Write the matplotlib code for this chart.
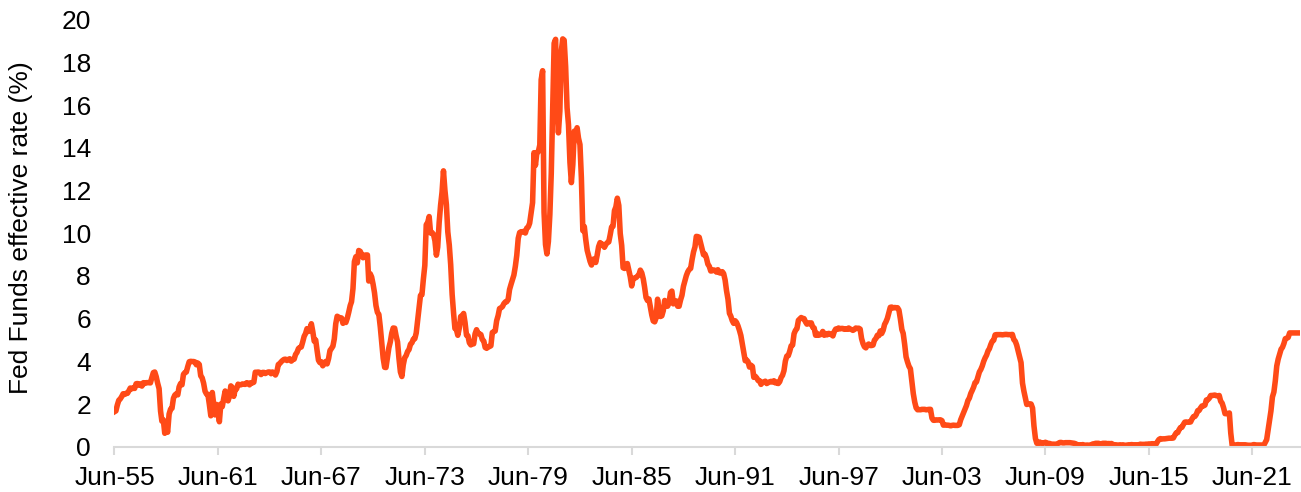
import numpy as np
import pandas as pd
import matplotlib.pyplot as plt

# monthly Fed Funds effective rate (%), Jun 1955 - Mar 2024
rates_1950s = [1.64, 1.68, 1.96, 2.18, 2.24, 2.35, 2.48,
               2.45, 2.50, 2.50, 2.62, 2.75, 2.71, 2.75, 2.73, 2.95, 2.96, 2.88, 2.94,
               2.84, 3.00, 2.96, 3.00, 3.00, 3.00, 2.99, 3.24, 3.47, 3.50, 3.28, 2.98,
               2.72, 1.67, 1.20, 1.26, 0.63, 0.93, 0.68, 1.53, 1.76, 1.80, 2.27, 2.42,
               2.48, 2.43, 2.80, 2.96, 2.90, 3.39, 3.47, 3.50, 3.76, 3.98, 4.00, 3.99]
rates_1960s = [3.99, 3.97, 3.84, 3.92, 3.85, 3.32, 3.23, 2.98, 2.60, 2.47, 2.44, 1.98,
               1.45, 2.54, 2.02, 1.49, 1.98, 1.73, 1.17, 2.00, 1.88, 2.26, 2.61, 2.33,
               2.15, 2.37, 2.85, 2.78, 2.36, 2.68, 2.71, 2.93, 2.90, 2.90, 2.94, 2.93,
               2.92, 3.00, 2.98, 2.90, 3.00, 2.99, 3.02, 3.49, 3.48, 3.50, 3.48, 3.38,
               3.48, 3.48, 3.43, 3.47, 3.50, 3.50, 3.42, 3.50, 3.45, 3.36, 3.52, 3.85,
               3.90, 3.98, 4.04, 4.09, 4.10, 4.04, 4.09, 4.12, 4.01, 4.08, 4.10, 4.32,
               4.42, 4.60, 4.65, 4.67, 4.90, 5.17, 5.30, 5.53, 5.40, 5.53, 5.76, 5.40,
               4.94, 5.00, 4.53, 4.05, 3.94, 3.98, 3.79, 3.90, 3.99, 3.88, 4.13, 4.51,
               4.60, 4.71, 5.05, 5.76, 6.11, 6.07, 6.02, 6.03, 5.78, 5.91, 5.82, 6.02,
               6.30, 6.61, 6.79, 7.41, 8.67, 8.90, 8.61, 9.19, 9.15, 9.00, 8.85, 8.97]
rates_1970s = [8.98, 8.98, 7.76, 8.10, 7.95, 7.61, 7.21, 6.61, 6.29, 6.20, 5.60, 4.90,
               4.14, 3.72, 3.71, 4.16, 4.63, 4.91, 5.31, 5.56, 5.55, 5.20, 4.91, 4.14,
               3.50, 3.29, 3.83, 4.17, 4.27, 4.46, 4.55, 4.80, 4.87, 5.04, 5.06, 5.33,
               5.94, 6.58, 7.09, 7.12, 7.84, 8.49, 10.40, 10.50, 10.78, 10.01, 10.03, 9.95,
               9.65, 8.97, 9.35, 10.51, 11.31, 11.93, 12.92, 12.01, 11.34, 10.06, 9.45, 8.53,
               7.13, 6.24, 5.54, 5.49, 5.22, 5.55, 6.10, 6.14, 6.24, 5.82, 5.22, 5.20,
               4.87, 4.77, 4.84, 4.82, 5.29, 5.48, 5.31, 5.29, 5.25, 5.02, 4.95, 4.65,
               4.61, 4.68, 4.69, 4.73, 5.35, 5.39, 5.42, 5.90, 6.14, 6.47, 6.51, 6.56,
               6.70, 6.78, 6.79, 6.89, 7.36, 7.60, 7.81, 8.04, 8.45, 8.96, 9.76, 10.03,
               10.07, 10.06, 10.09, 10.01, 10.24, 10.29, 10.47, 10.94, 11.43, 13.77, 13.18, 13.78]
rates_1980s = [13.82, 14.13, 17.19, 17.61, 10.98, 9.47, 9.03, 9.61, 10.87, 12.81, 15.85, 18.90,
               19.08, 15.93, 14.70, 15.72, 18.52, 19.10, 19.04, 17.82, 15.87, 15.08, 13.31, 12.37,
               13.22, 14.78, 14.68, 14.94, 14.45, 14.15, 12.59, 10.12, 10.31, 9.71, 9.20, 8.95,
               8.68, 8.51, 8.77, 8.80, 8.63, 8.98, 9.37, 9.56, 9.45, 9.48, 9.34, 9.47,
               9.56, 9.59, 9.91, 10.29, 10.32, 11.06, 11.23, 11.64, 11.30, 9.99, 9.43, 8.38,
               8.35, 8.50, 8.58, 8.27, 7.97, 7.53, 7.88, 7.90, 7.92, 7.99, 8.05, 8.27,
               8.14, 7.86, 7.48, 6.99, 6.85, 6.92, 6.56, 6.17, 5.89, 5.85, 6.04, 6.91,
               6.43, 6.10, 6.13, 6.37, 6.85, 6.73, 6.58, 6.73, 7.22, 7.29, 6.69, 6.77,
               6.83, 6.58, 6.58, 6.87, 7.09, 7.51, 7.75, 8.01, 8.19, 8.30, 8.35, 8.76,
               9.12, 9.36, 9.85, 9.84, 9.81, 9.53, 9.24, 8.99, 9.02, 8.84, 8.55, 8.45]
rates_1990s = [8.23, 8.24, 8.28, 8.26, 8.18, 8.29, 8.15, 8.13, 8.20, 8.11, 7.81, 7.31,
               6.91, 6.25, 6.12, 5.91, 5.78, 5.90, 5.82, 5.66, 5.45, 5.21, 4.81, 4.43,
               4.03, 4.06, 3.98, 3.73, 3.82, 3.76, 3.25, 3.30, 3.22, 3.10, 3.09, 2.92,
               3.02, 3.03, 3.07, 2.96, 3.00, 3.04, 3.06, 3.03, 3.09, 2.99, 3.02, 2.96,
               3.05, 3.25, 3.34, 3.56, 4.01, 4.25, 4.26, 4.47, 4.73, 4.76, 5.29, 5.45,
               5.53, 5.92, 5.98, 6.05, 6.01, 6.00, 5.85, 5.74, 5.80, 5.76, 5.80, 5.60,
               5.56, 5.22, 5.31, 5.22, 5.24, 5.27, 5.40, 5.22, 5.30, 5.24, 5.31, 5.29,
               5.25, 5.19, 5.39, 5.51, 5.50, 5.56, 5.52, 5.54, 5.54, 5.50, 5.52, 5.50,
               5.56, 5.51, 5.49, 5.45, 5.49, 5.56, 5.54, 5.55, 5.51, 5.07, 4.83, 4.68,
               4.63, 4.76, 4.81, 4.74, 4.74, 4.76, 4.99, 5.07, 5.22, 5.20, 5.42, 5.30]
rates_2000s = [5.45, 5.73, 5.85, 6.02, 6.27, 6.53, 6.54, 6.50, 6.52, 6.51, 6.51, 6.40,
               5.98, 5.49, 5.31, 4.80, 4.21, 3.97, 3.77, 3.65, 3.07, 2.49, 2.09, 1.82,
               1.73, 1.74, 1.73, 1.75, 1.75, 1.75, 1.73, 1.74, 1.75, 1.75, 1.34, 1.24,
               1.24, 1.26, 1.25, 1.26, 1.26, 1.22, 1.01, 1.03, 1.01, 1.01, 1.00, 0.98,
               1.00, 1.01, 1.00, 1.00, 1.00, 1.03, 1.26, 1.43, 1.61, 1.76, 1.93, 2.16,
               2.28, 2.50, 2.63, 2.79, 3.00, 3.04, 3.26, 3.50, 3.62, 3.78, 4.00, 4.16,
               4.29, 4.49, 4.59, 4.79, 4.94, 4.99, 5.24, 5.25, 5.25, 5.25, 5.25, 5.24,
               5.25, 5.26, 5.26, 5.25, 5.25, 5.25, 5.26, 5.02, 4.94, 4.76, 4.49, 4.24,
               3.94, 2.98, 2.61, 2.28, 1.98, 2.00, 2.01, 2.00, 1.81, 0.97, 0.39, 0.16,
               0.15, 0.22, 0.18, 0.15, 0.18, 0.21, 0.16, 0.16, 0.15, 0.12, 0.12, 0.12]
rates_2010s = [0.11, 0.13, 0.16, 0.20, 0.20, 0.18, 0.18, 0.19, 0.19, 0.19, 0.19, 0.18,
               0.17, 0.16, 0.14, 0.10, 0.09, 0.09, 0.07, 0.10, 0.08, 0.07, 0.08, 0.07,
               0.08, 0.10, 0.13, 0.14, 0.16, 0.16, 0.16, 0.13, 0.14, 0.16, 0.16, 0.16,
               0.14, 0.15, 0.14, 0.15, 0.11, 0.09, 0.09, 0.08, 0.08, 0.09, 0.08, 0.09,
               0.07, 0.07, 0.08, 0.09, 0.09, 0.10, 0.09, 0.09, 0.09, 0.09, 0.09, 0.12,
               0.11, 0.11, 0.11, 0.12, 0.12, 0.13, 0.13, 0.14, 0.14, 0.12, 0.12, 0.24,
               0.34, 0.38, 0.36, 0.37, 0.37, 0.38, 0.39, 0.40, 0.40, 0.40, 0.41, 0.54,
               0.65, 0.66, 0.79, 0.90, 0.91, 1.04, 1.15, 1.16, 1.15, 1.15, 1.16, 1.30,
               1.41, 1.42, 1.51, 1.69, 1.70, 1.82, 1.91, 1.91, 1.95, 2.19, 2.20, 2.27,
               2.40, 2.40, 2.41, 2.42, 2.39, 2.38, 2.40, 2.13, 2.04, 1.83, 1.55, 1.55]
rates_2020s = [1.55, 1.58, 0.65, 0.05, 0.05, 0.08, 0.09, 0.10, 0.09, 0.09, 0.09, 0.09,
               0.09, 0.08, 0.07, 0.07, 0.06, 0.08, 0.10, 0.09, 0.08, 0.08, 0.08, 0.08,
               0.08, 0.08, 0.20, 0.33, 0.77, 1.21, 1.68, 2.33, 2.56, 3.08, 3.78, 4.10,
               4.33, 4.57, 4.65, 4.83, 5.06, 5.08, 5.12, 5.33, 5.33, 5.33, 5.33, 5.33,
               5.33, 5.33, 5.33]

tick_years = [1955, 1961, 1967, 1973, 1979, 1985, 1991, 1997, 2003, 2009, 2015, 2021]
tick_labels = ["Jun-55", "Jun-61", "Jun-67", "Jun-73", "Jun-79", "Jun-85",
               "Jun-91", "Jun-97", "Jun-03", "Jun-09", "Jun-15", "Jun-21"]

rates = np.array(rates_1950s + rates_1960s + rates_1970s + rates_1980s
                 + rates_1990s + rates_2000s + rates_2010s + rates_2020s)
dates = pd.date_range("1955-06-01", periods=len(rates), freq="MS")

plt.rcParams['font.family'] = ['Liberation Sans', 'DejaVu Sans']

fig = plt.figure(figsize=(13.01, 4.92), dpi=100)
ax = fig.add_axes([0.088, 0.092, 0.911, 0.868])

ax.plot(dates, rates, color="#FF4A17", linewidth=4, solid_joinstyle="round")

ax.set_xlim(dates[0], dates[-1])
ax.set_ylim(0, 20)
ax.set_yticks(np.arange(0, 21, 2))
ax.set_xticks(pd.to_datetime([f"{y}-06-01" for y in tick_years]))
ax.set_xticklabels(tick_labels)

for s in ("top", "right", "left"):
    ax.spines[s].set_visible(False)
ax.spines["bottom"].set_color("#D9D9D9")
ax.spines["bottom"].set_linewidth(1.5)
ax.tick_params(axis="x", colors="#D9D9D9", length=6, width=1.5, labelcolor="black",
               labelsize=19, pad=8)
ax.tick_params(axis="y", length=0, labelsize=19, pad=17)
ax.set_ylabel("Fed Funds effective rate (%)", fontsize=19)
ax.yaxis.set_label_coords(-0.0688, 0.512)

plt.savefig("out.png", dpi=100)
